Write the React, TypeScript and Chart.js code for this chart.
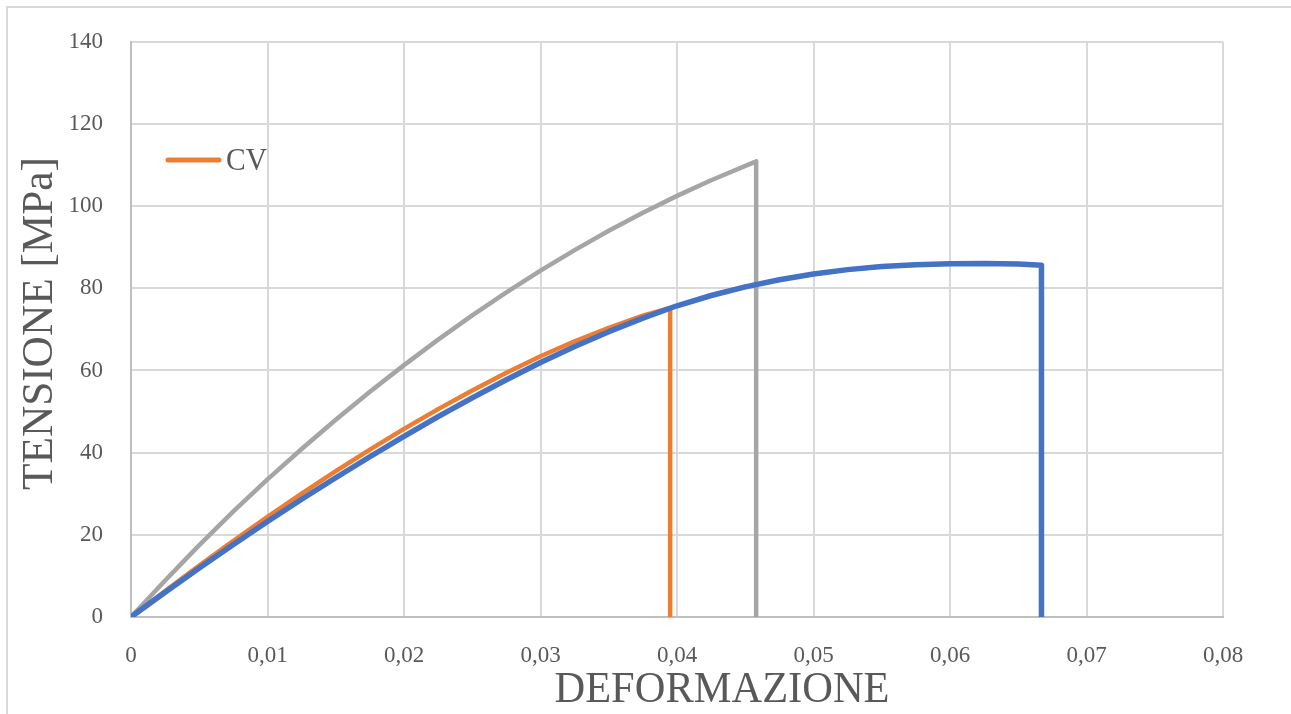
import React, { useEffect, useRef } from "react";
import { Chart, registerables } from "chart.js";

Chart.register(...registerables);

// ---- data ----
const strainBlue = [0, 0.0025, 0.005, 0.0075, 0.01, 0.0125, 0.015, 0.0175, 0.02, 0.0225, 0.025, 0.0275, 0.03, 0.0325, 0.035, 0.0375, 0.04, 0.0425, 0.045, 0.0475, 0.05, 0.0525, 0.055, 0.0575, 0.06, 0.0625, 0.065, 0.0667, 0.0667];
const stressBlue = [0, 6.0, 11.9, 17.65, 23.25, 28.65, 33.9, 39.0, 43.95, 48.75, 53.35, 57.75, 61.95, 65.85, 69.45, 72.75, 75.75, 78.25, 80.35, 82.1, 83.5, 84.55, 85.3, 85.75, 86.0, 86.05, 85.9, 85.6, 0];

const strainOrange = [0, 0.0025, 0.005, 0.0075, 0.01, 0.0125, 0.015, 0.0175, 0.02, 0.0225, 0.025, 0.0275, 0.03, 0.0325, 0.035, 0.0375, 0.0395, 0.0395];
const stressOrange = [0, 6.3, 12.5, 18.55, 24.4, 30.05, 35.5, 40.75, 45.8, 50.6, 55.15, 59.45, 63.45, 67.1, 70.4, 73.35, 75.2, 0];

const strainGray = [0, 0.0025, 0.005, 0.0075, 0.01, 0.0125, 0.015, 0.0175, 0.02, 0.0225, 0.025, 0.0275, 0.03, 0.0325, 0.035, 0.0375, 0.04, 0.0425, 0.0458, 0.0458];
const stressGray = [0, 8.9, 17.5, 25.7, 33.5, 40.9, 48.0, 54.8, 61.3, 67.5, 73.4, 79.0, 84.3, 89.3, 94.0, 98.4, 102.5, 106.3, 110.9, 0];

const seriesLabels = ["Serie 1", "CV", "Serie 3"];
const legendShown = ["CV"];

const xTickLabels = ["0", "0,01", "0,02", "0,03", "0,04", "0,05", "0,06", "0,07", "0,08"];
const yTickLabels = ["0", "20", "40", "60", "80", "100", "120", "140"];

const xTitle = "DEFORMAZIONE";
const yTitle = "TENSIONE [MPa]";

const toPoints = (xs: number[], ys: number[]) => xs.map((x, i) => ({ x, y: ys[i] }));

const TEXT = "#595959";
const SERIF = '"Liberation Serif", "DejaVu Serif", serif';

function drawFitted(ctx: CanvasRenderingContext2D, text: string, cx: number, baseline: number, size: number, width: number, rot: number) {
  ctx.save();
  ctx.translate(cx, baseline);
  ctx.rotate(rot);
  ctx.font = `${size}px ${SERIF}`;
  const w = ctx.measureText(text).width;
  ctx.scale(width / w, 1);
  ctx.textAlign = "center";
  ctx.textBaseline = "alphabetic";
  ctx.fillStyle = TEXT;
  ctx.fillText(text, 0, 0);
  ctx.restore();
}

const textPlugin = {
  id: "excelText",
  afterDraw(chart: any) {
    const ctx: CanvasRenderingContext2D = chart.ctx;
    drawFitted(ctx, xTitle, 722, 702, 44, 335, 0);
    drawFitted(ctx, yTitle, 52, 323.5, 44, 333, -Math.PI / 2);
    // legend (only CV entry)
    const ds = chart.data.datasets.filter((d: any) => legendShown.includes(d.label));
    ds.forEach((d: any, i: number) => {
      const y = 160 + i * 40;
      ctx.save();
      ctx.strokeStyle = d.borderColor;
      ctx.lineWidth = 5;
      ctx.lineCap = "round";
      ctx.beginPath();
      ctx.moveTo(168, y);
      ctx.lineTo(219, y);
      ctx.stroke();
      ctx.restore();
      ctx.save();
      ctx.font = `32px ${SERIF}`;
      const w = ctx.measureText(d.label).width;
      ctx.translate(226, y + 10);
      ctx.scale(41 / w, 1);
      ctx.fillStyle = TEXT;
      ctx.textAlign = "left";
      ctx.textBaseline = "alphabetic";
      ctx.fillText(d.label, 0, 0);
      ctx.restore();
    });
  },
};

export default function App() {
  const ref = useRef<HTMLCanvasElement>(null);

  useEffect(() => {
    if (!ref.current) return;
    const chart = new Chart(ref.current, {
      type: "scatter",
      data: {
        datasets: [
          {
            label: seriesLabels[0],
            data: toPoints(strainBlue, stressBlue),
            showLine: true,
            borderColor: "#4472C4",
            backgroundColor: "#4472C4",
            borderWidth: 5.5,
            pointRadius: 0,
            tension: 0,
            borderJoinStyle: "round",
            order: 0,
          },
          {
            label: seriesLabels[1],
            data: toPoints(strainOrange, stressOrange),
            showLine: true,
            borderColor: "#ED7D31",
            backgroundColor: "#ED7D31",
            borderWidth: 4.5,
            pointRadius: 0,
            tension: 0,
            borderJoinStyle: "round",
            order: 1,
          },
          {
            label: seriesLabels[2],
            data: toPoints(strainGray, stressGray),
            showLine: true,
            borderColor: "#A5A5A5",
            backgroundColor: "#A5A5A5",
            borderWidth: 4.5,
            pointRadius: 0,
            tension: 0,
            borderJoinStyle: "round",
            order: 2,
          },
        ],
      },
      options: {
        responsive: false,
        animation: false,
        layout: { padding: { top: 36, right: 68, left: 0, bottom: 0 } },
        plugins: {
          legend: { display: false },
          tooltip: { enabled: false },
        },
        scales: {
          x: {
            type: "linear",
            min: 0,
            max: 0.08,
            afterFit: (s: any) => {
              s.height = 97;
            },
            afterBuildTicks: (s: any) => {
              s.ticks = xTickLabels.map((_, i) => ({ value: i * 0.01 }));
            },
            ticks: {
              padding: 25,
              color: TEXT,
              font: { family: SERIF, size: 23 },
              maxRotation: 0,
              autoSkip: false,
              callback: (_v: any, i: number) => xTickLabels[i],
            },
            grid: { color: "#d9d9d9", lineWidth: 2, drawTicks: false },
            border: { color: "#bfbfbf", width: 2 },
          },
          y: {
            type: "linear",
            min: 0,
            max: 140,
            afterFit: (s: any) => {
              s.width = 131;
            },
            afterBuildTicks: (s: any) => {
              s.ticks = yTickLabels.map((_, i) => ({ value: i * 20 }));
            },
            ticks: {
              padding: 28,
              color: TEXT,
              font: { family: SERIF, size: 23 },
              autoSkip: false,
              callback: (_v: any, i: number) => yTickLabels[i],
            },
            grid: { color: "#d9d9d9", lineWidth: 2, drawTicks: false },
            border: { color: "#bfbfbf", width: 2 },
          },
        },
      },
      plugins: [textPlugin],
    });
    return () => chart.destroy();
  }, []);

  return (
    <div style={{ position: "absolute", left: 0, top: 0, width: 1291, height: 714, background: "#fff", overflow: "hidden" }}>
      <div
        style={{
          position: "absolute",
          left: 6,
          top: 6,
          width: 1300,
          height: 720,
          borderLeft: "2px solid #d9d9d9",
          borderTop: "2px solid #d9d9d9",
        }}
      />
      <canvas ref={ref} width={1291} height={714} style={{ position: "absolute", left: 0, top: 0, display: "block" }} />
    </div>
  );
}
